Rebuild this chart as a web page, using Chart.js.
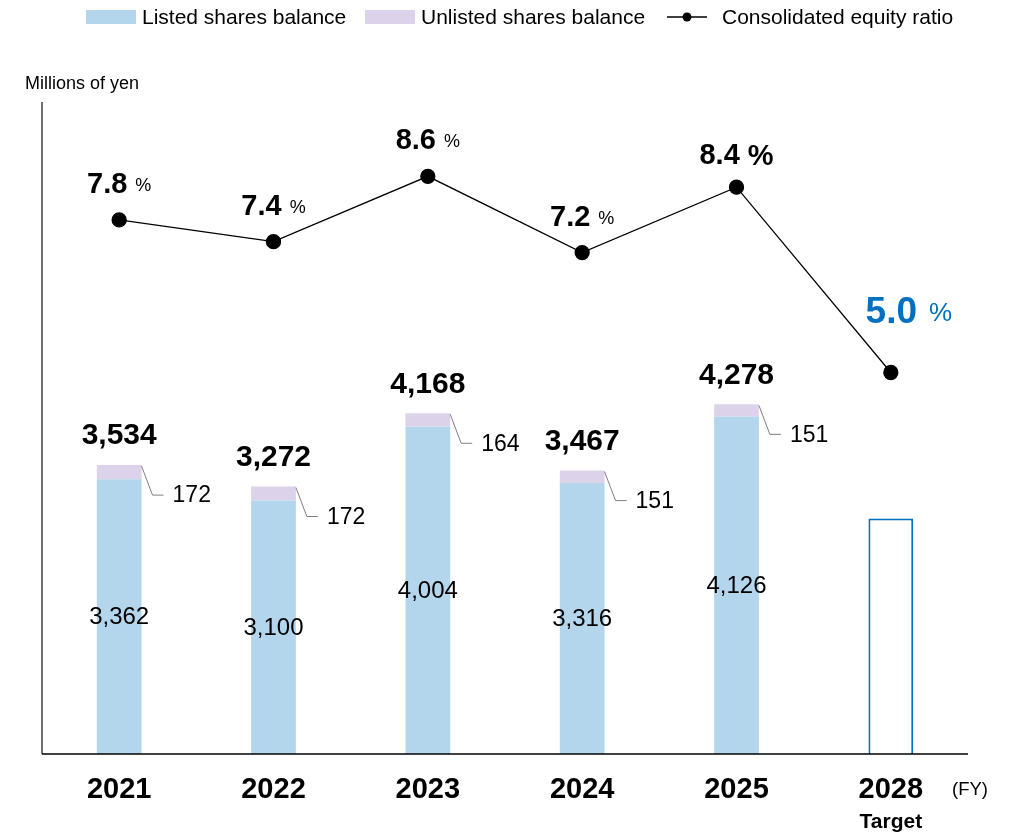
<!DOCTYPE html>
<html>
<head>
<meta charset="utf-8">
<script src="https://cdn.jsdelivr.net/npm/chart.js@4.4.0/dist/chart.umd.min.js"></script>
<style>
  html, body { margin: 0; padding: 0; background: #fff; }
</style>
</head>
<body>
<canvas id="balanceChart" width="1012" height="832"></canvas>
<script>
// Datos del gráfico
var years = ['2021', '2022', '2023', '2024', '2025', '2028'];
var listed = [3362, 3100, 4004, 3316, 4126, null];
var unlisted = [172, 172, 164, 151, 151, null];
var totals = [3534, 3272, 4168, 3467, 4278, null];
var target = [null, null, null, null, null, 2880];
var equityRatio = [7.8, 7.4, 8.6, 7.2, 8.4, 5.0];

var FONT = '"Liberation Sans", Arial, sans-serif';
var BLUE = '#0070c0';

function fmt(n) { return n.toLocaleString('en-US'); }

// Etiquetas, ejes y leyenda dibujados a mano
var labelsPlugin = {
  id: 'labels',
  afterDatasetsDraw: function (chart) {
    var ctx = chart.ctx;
    var area = chart.chartArea;
    var listedMeta = chart.getDatasetMeta(1);
    var unlistedMeta = chart.getDatasetMeta(2);
    var lineMeta = chart.getDatasetMeta(0);
    var xScale = chart.scales.x;

    ctx.save();
    // ejes
    ctx.strokeStyle = '#404040';
    ctx.lineWidth = 1.5;
    ctx.beginPath();
    ctx.moveTo(area.left, area.top + 2);
    ctx.lineTo(area.left, area.bottom);
    ctx.stroke();
    ctx.strokeStyle = '#000';
    ctx.beginPath();
    ctx.moveTo(area.left, area.bottom);
    ctx.lineTo(area.right, area.bottom);
    ctx.stroke();

    ctx.textBaseline = 'middle';
    ctx.fillStyle = '#000';

    for (var i = 0; i < years.length; i++) {
      if (listed[i] == null) continue;
      var lb = listedMeta.data[i];
      var ub = unlistedMeta.data[i];
      var right = ub.x + ub.width / 2;
      // valor listed en el centro
      ctx.font = '24px ' + FONT;
      ctx.textAlign = 'center';
      ctx.fillText(fmt(listed[i]), lb.x, (lb.y + lb.base) / 2 + 1);
      // total arriba
      ctx.font = 'bold 30px ' + FONT;
      ctx.fillText(fmt(totals[i]), ub.x, ub.y - 29);
      // linea guia y valor unlisted
      ctx.strokeStyle = '#7f7f7f';
      ctx.lineWidth = 1;
      ctx.beginPath();
      ctx.moveTo(right, ub.y + 1);
      ctx.lineTo(right + 11, ub.y + 30);
      ctx.lineTo(right + 22, ub.y + 30);
      ctx.stroke();
      ctx.font = '23px ' + FONT;
      ctx.textAlign = 'left';
      ctx.fillText(fmt(unlisted[i]), right + 31, ub.y + 31);
    }

    // etiquetas del ratio
    for (var j = 0; j < equityRatio.length; j++) {
      var p = lineMeta.data[j];
      var num = equityRatio[j].toFixed(1);
      var numFont = 'bold 29px ' + FONT;
      var pctFont = '18px ' + FONT;
      var color = '#000';
      var dy = 35, dx = 0;
      if (j === 4) { pctFont = 'bold 29px ' + FONT; dy = 31; }
      if (j === 5) { numFont = 'bold 37px ' + FONT; pctFont = '26px ' + FONT; color = BLUE; dy = 60; dx = 18; }
      ctx.font = numFont;
      var w1 = ctx.measureText(num).width;
      ctx.font = pctFont;
      var w2 = ctx.measureText('%').width;
      var gap = j === 5 ? 12 : 8;
      var x0 = p.x + dx - (w1 + gap + w2) / 2;
      var yy = p.y - dy;
      ctx.fillStyle = color;
      ctx.textAlign = 'left';
      ctx.font = numFont;
      ctx.fillText(num, x0, yy);
      ctx.font = pctFont;
      ctx.fillText('%', x0 + w1 + gap, yy + 1);
    }

    // etiquetas del eje x
    ctx.fillStyle = '#000';
    ctx.textAlign = 'center';
    for (var k = 0; k < years.length; k++) {
      var cx = xScale.getPixelForValue(k);
      ctx.font = 'bold 29px ' + FONT;
      ctx.fillText(years[k], cx, 790);
    }
    ctx.font = 'bold 21px ' + FONT;
    ctx.fillText('Target', xScale.getPixelForValue(5), 822);
    ctx.font = '18.5px ' + FONT;
    ctx.textAlign = 'left';
    ctx.fillText('(FY)', 952, 790);
    ctx.font = '18px ' + FONT;
    ctx.fillText('Millions of yen', 25, 84);

    // leyenda
    ctx.font = '21px ' + FONT;
    ctx.fillStyle = '#b4d6ec';
    ctx.fillRect(86, 10, 50, 14);
    ctx.fillStyle = '#000';
    ctx.fillText('Listed shares balance', 142, 18);
    ctx.fillStyle = '#dcd3ea';
    ctx.fillRect(365, 10, 50, 14);
    ctx.fillStyle = '#000';
    ctx.fillText('Unlisted shares balance', 421, 18);
    ctx.strokeStyle = '#000';
    ctx.lineWidth = 1.3;
    ctx.beginPath();
    ctx.moveTo(667, 17);
    ctx.lineTo(707, 17);
    ctx.stroke();
    ctx.beginPath();
    ctx.arc(687, 17, 4.5, 0, Math.PI * 2);
    ctx.fill();
    ctx.fillText('Consolidated equity ratio', 722, 18);
    ctx.restore();
  }
};

var ctx = document.getElementById('balanceChart').getContext('2d');

var balanceChart = new Chart(ctx, {
  type: 'bar',
  data: {
    labels: years,
    datasets: [
      {
        type: 'line',
        label: 'Consolidated equity ratio',
        data: equityRatio,
        yAxisID: 'y2',
        borderColor: '#000',
        borderWidth: 1.3,
        pointRadius: 7,
        pointBackgroundColor: '#000',
        pointBorderColor: '#000',
        tension: 0,
        order: 0
      },
      {
        label: 'Listed shares balance',
        data: listed,
        backgroundColor: '#b4d6ec',
        stack: 's',
        order: 1
      },
      {
        label: 'Unlisted shares balance',
        data: unlisted,
        backgroundColor: '#dcd3ea',
        stack: 's',
        order: 1
      },
      {
        label: 'Target',
        data: target,
        backgroundColor: '#fff',
        borderColor: BLUE,
        borderWidth: 2,
        stack: 's',
        order: 1
      }
    ]
  },
  options: {
    responsive: false,
    animation: false,
    devicePixelRatio: 1,
    layout: { padding: { left: 42, right: 44, top: 100, bottom: 78 } },
    datasets: { bar: { categoryPercentage: 1, barPercentage: 0.29 } },
    plugins: {
      legend: { display: false },
      tooltip: { enabled: false }
    },
    scales: {
      x: { display: false, stacked: true },
      y: { display: false, stacked: true, min: 0, max: 8000 },
      y2: { display: false, min: -2, max: 10 }
    }
  },
  plugins: [labelsPlugin]
});
</script>
</body>
</html>
